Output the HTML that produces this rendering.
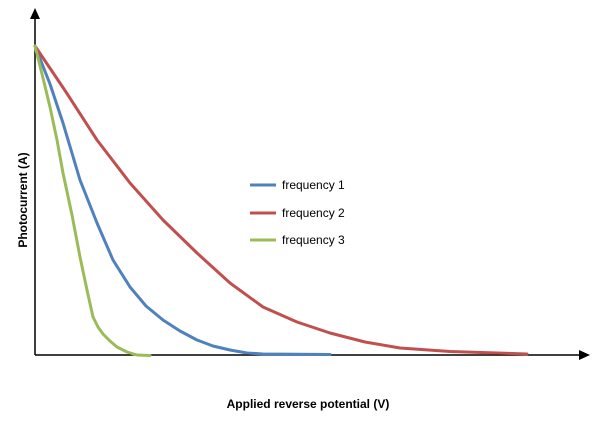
<!DOCTYPE html>
<html><head><style>body{margin:0;background:#fff}</style></head><body>
<svg width="616" height="441" xmlns="http://www.w3.org/2000/svg" font-family="Liberation Sans, sans-serif">
<rect width="616" height="441" fill="#fff"/>
<line x1="35" y1="355" x2="35" y2="18" stroke="#000" stroke-width="1.5"/>
<polygon points="35,8 30,19 40,19" fill="#000"/>
<line x1="35" y1="355" x2="580" y2="355" stroke="#000" stroke-width="1.5"/>
<polygon points="590,355 579,350 579,360" fill="#000"/>
<g fill="none" stroke-width="3" stroke-linejoin="round" stroke-linecap="round">
<polyline stroke="#4f81bd" points="35,46 50,84 63,123 80,180 97,223 113,260 130,287 146,306 163,320 180,331 197,340 213,346 230,350 247,353 263,354 330,354.5"/>
<polyline stroke="#c0504d" points="35,46 66,92 97,140 130,183 163,220 197,253 230,283 263,307 297,322 330,333 365,342 400,348 450,351.5 527,354"/>
<polyline stroke="#9bbb59" points="35,46 43,78 50,107 57,140 63,173 72,215 80,257 87,290 93,317 98,327 103,334 110,341 117,347 127,352 137,355 150,355.5"/>
</g>
<line x1="250" y1="185" x2="276" y2="185" stroke="#4f81bd" stroke-width="3"/>
<line x1="250" y1="213" x2="276" y2="213" stroke="#c0504d" stroke-width="3"/>
<line x1="250" y1="240" x2="276" y2="240" stroke="#9bbb59" stroke-width="3"/>
<g font-size="12" fill="#000">
<text x="282" y="189">frequency 1</text>
<text x="282" y="217">frequency 2</text>
<text x="282" y="244">frequency 3</text>
</g>
<text x="308" y="408" font-size="12" font-weight="bold" text-anchor="middle">Applied reverse potential  (V)</text>
<text transform="translate(27,200) rotate(-90)" font-size="12" font-weight="bold" text-anchor="middle">Photocurrent (A)</text>
</svg>
</body></html>
